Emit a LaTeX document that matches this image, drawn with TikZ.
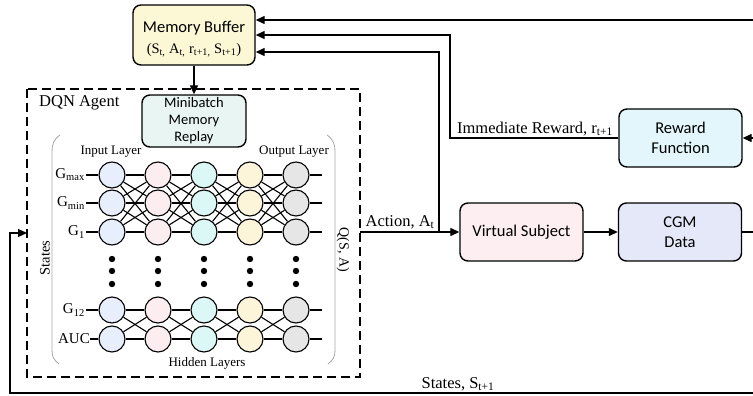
\documentclass[tikz,border=0pt]{standalone}
\usepackage{fontspec}
\setmainfont{Liberation Serif}
\setsansfont{Carlito}
\usetikzlibrary{arrows.meta,calc}
\definecolor{mbfill}{RGB}{252,248,214}
\definecolor{mrfill}{RGB}{232,245,242}
\definecolor{vsfill}{RGB}{253,238,242}
\definecolor{cgmfill}{RGB}{229,232,248}
\definecolor{rffill}{RGB}{226,246,252}
\definecolor{cA}{RGB}{232,238,252}
\definecolor{cB}{RGB}{252,238,240}
\definecolor{cC}{RGB}{220,248,246}
\definecolor{cD}{RGB}{252,245,218}
\definecolor{cE}{RGB}{230,230,230}
\begin{document}
\begin{tikzpicture}[x=1pt,y=-1pt,
  box/.style={draw,line width=1.4pt,rounded corners=8pt,align=center,font=\sffamily\fontsize{16.5}{20}\selectfont,inner sep=0pt},
  arr/.style={line width=1.3pt,-{Triangle[length=9pt,width=8pt]}},
  ln/.style={line width=1.3pt},
  neur/.style={circle,draw,line width=1.1pt,minimum size=26pt,inner sep=0pt},
  edge/.style={line width=1.1pt},
  lbl/.style={font=\fontsize{16.5}{18}\selectfont,inner sep=1pt},
  sm/.style={font=\fontsize{13}{15}\selectfont,inner sep=1pt},
  gl/.style={font=\fontsize{15}{17}\selectfont,inner sep=1pt}]
\useasboundingbox (0,0) rectangle (753,396);
% boxes
\node[box,fill=mbfill,minimum width=122pt,minimum height=60pt] (mb) at (194,35) {};
\node[font=\sffamily\fontsize{16.5}{20}\selectfont,inner sep=0pt] (mbt1) at (194,28) {Memory Buffer};
\node[font=\fontsize{14.5}{17}\selectfont,inner sep=0pt] (mbt2) at (194,50) {(S\textsubscript{t,} A\textsubscript{t,} r\textsubscript{t+1,} S\textsubscript{t+1})};
\node[box,fill=mrfill,minimum width=104pt,minimum height=52pt,font=\sffamily\fontsize{14.5}{17}\selectfont] (mr) at (194,121) {Minibatch\\Memory\\Replay};
\node[box,fill=vsfill,minimum width=123pt,minimum height=58pt] (vs) at (521.5,232) {Virtual Subject};
\node[box,fill=cgmfill,minimum width=123pt,minimum height=58pt] (cgm) at (680,232) {CGM\\Data};
\node[box,fill=rffill,minimum width=123pt,minimum height=58pt] (rf) at (680.5,138) {Reward\\Function};
% dashed agent box
\draw[line width=1.4pt,dash pattern=on 9pt off 5pt] (27,89) rectangle (360,377);
\node[lbl,anchor=west] (dqn) at (38,103) {DQN Agent};
% brackets
\draw[gray!70,line width=0.8pt] (60,135) .. controls (53,140) and (52,145) .. (52,152) -- (52,350) .. controls (52,357) and (54,360) .. (59,364);
\draw[gray!70,line width=0.8pt] (327,135) .. controls (334,140) and (335,145) .. (335,152) -- (335,350) .. controls (335,357) and (333,360) .. (328,364);
\node[font=\fontsize{14.5}{16}\selectfont,inner sep=1pt,rotate=90] (st) at (45,258) {States};
\node[font=\fontsize{14}{16}\selectfont,inner sep=1pt,rotate=-90] (qsa) at (343,250) {Q(S, A)};
\node[sm] (il) at (111,152) {Input Layer};
\node[sm] (ol) at (294,152) {Output Layer};
\node[sm] (hl) at (207,363) {Hidden Layers};
% network
\foreach \c/\x/\col in {1/112/cA,2/158/cB,3/204/cC,4/250/cD,5/296/cE}{
  \foreach \r/\y in {1/175,2/203,3/232,4/310,5/339}{
    \node[neur,fill=\col] (n-\c-\r) at (\x,\y) {};
  }
  \foreach \dy in {259,271,284}{\fill (\x,\dy) circle (3.2pt);}
}
\foreach \c [evaluate=\c as \d using int(\c+1)] in {1,2,3,4}{
  \foreach \r in {1,2,3}{\foreach \s in {1,2,3}{\draw[edge] (n-\c-\r) -- (n-\d-\s);}}
  \foreach \r in {4,5}{\foreach \s in {4,5}{\draw[edge] (n-\c-\r) -- (n-\d-\s);}}
}
\foreach \r/\y/\t in {1/175/G\textsubscript{max},2/203/G\textsubscript{min},3/232/G\textsubscript{1},4/310/G\textsubscript{12}}{
  \node[gl,anchor=east] (lab-\r) at (86,\y) {\t};
  \draw[edge] (lab-\r.east) -- (n-1-\r);
}
\node[gl,anchor=east,inner sep=0pt] (lab-5) at (90,339) {AUC};
\draw[edge] (lab-5.east) -- (n-1-5);
\foreach \r/\y in {1/175,2/203,3/232,4/310,5/339}{
  \coordinate (o-\r) at (322,\y);
  \draw[edge] (n-5-\r) -- (o-\r);
}
% connectors
\draw[arr] (mb.south) -- (mr.north);
\coordinate (agR) at (360,232);
\coordinate (br) at (439,232);
\draw[arr] (agR) -- (vs.west);
\node[lbl,anchor=south] (act) at (400,230) {Action, A\textsubscript{t}};
\draw[arr] (br) -- (439,52) -- (mb.east |- 0,52);
\draw[arr] (vs.east) -- (cgm.west);
\coordinate (cgmR) at (753,232);
\draw[ln] (cgm.east) -- (cgmR);
\coordinate (rfR) at (753,138);
\draw[arr] (rfR) -- (rf.east);
\draw[arr] (rf.west) -- (450,138) -- (450,35) -- (mb.east |- 0,35);
\node[lbl,anchor=south] (ir) at (535,137) {Immediate Reward, r\textsubscript{t+1}};
\coordinate (topR) at (753,20);
\draw[arr] (topR) -- (mb.east |- 0,20);
\coordinate (botR) at (753,393);
\coordinate (agL) at (27,233);
\draw[arr] (botR) -- (10,393) -- (10,233) -- (agL);
\node[lbl,anchor=south] (sl) at (458,392) {States, S\textsubscript{t+1}};
\end{tikzpicture}
\end{document}
